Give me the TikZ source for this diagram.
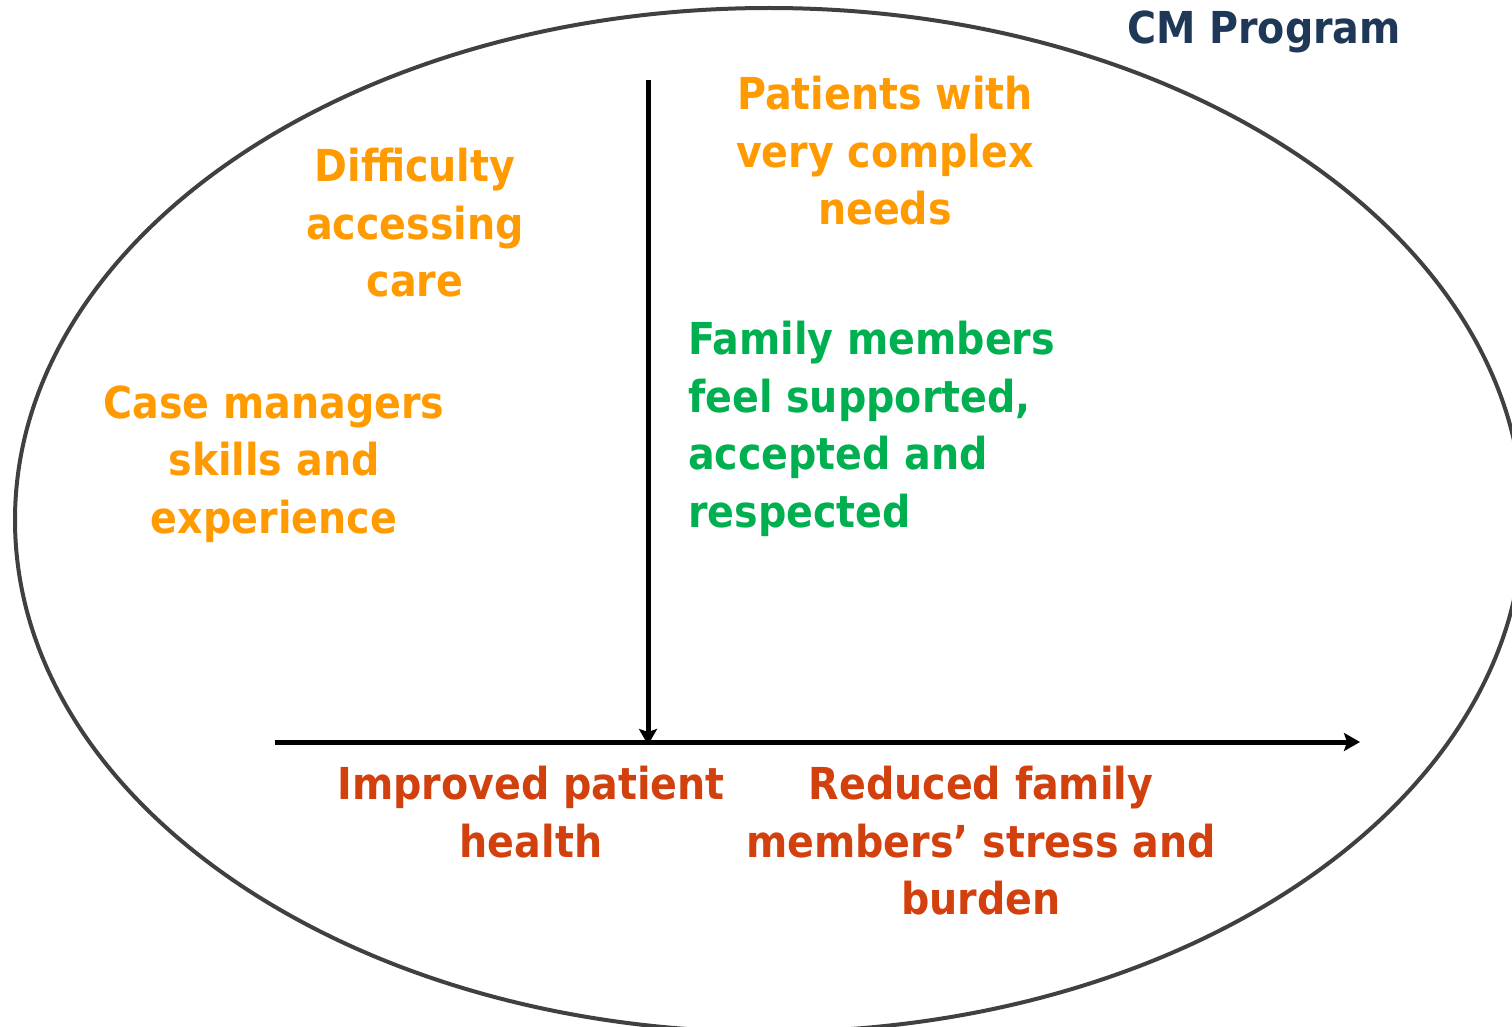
\documentclass[tikz,border=0pt]{standalone}
\usepackage{fontspec}
\setmainfont{DejaVu Sans Condensed}
\usepackage{xcolor}
\usetikzlibrary{arrows.meta}
\definecolor{cmnavy}{HTML}{1F3858}
\definecolor{cmorange}{HTML}{FF9A00}
\definecolor{cmgreen}{HTML}{00B050}
\definecolor{cmred}{HTML}{D2400E}
\tikzset{
  lbl/.style={font=\bfseries\fontsize{44}{57.5}\selectfont, inner sep=0pt, align=center},
  axis/.style={line width=5pt, -{Stealth[length=16pt,width=18pt,inset=3pt]}}
}

\begin{document}
\begin{tikzpicture}[x=1pt,y=-1pt]
\useasboundingbox (0,0) rectangle (1512,1027);
% ellisse
\draw[line width=4pt][black!75] (769,520) ellipse [x radius=754, y radius=512];
\node (program) at (1264,32) [lbl][cmnavy] {CM Program};

% assi
\coordinate (vtop) at (648,80);
\coordinate (vend) at (648,745);
\coordinate (hstart) at (275,742);
\coordinate (hend) at (1360,742);
\draw[axis] (vtop) -- (vend);
\draw[axis] (hstart) -- (hend);

% sopra
\node (patients) at (885,151) [lbl][cmorange] {Patients with\\very complex\\needs};
\node (difficulty) at (415,223) [lbl][cmorange] {Difficulty\\accessing\\care};
\node (casemgr) at (274,464) [lbl][cmorange] {Case managers\\skills and\\experience};
\node (family) at (688,429) [lbl, anchor=west, align=left][cmgreen] {Family members\\feel supported,\\accepted and\\respected};

% sotto
\node (health) at (531,812) [lbl][cmred] {Improved patient\\health};
\node (burden) at (981,841) [lbl][cmred] {Reduced family\\members’ stress and\\burden};
\end{tikzpicture}
\end{document}
